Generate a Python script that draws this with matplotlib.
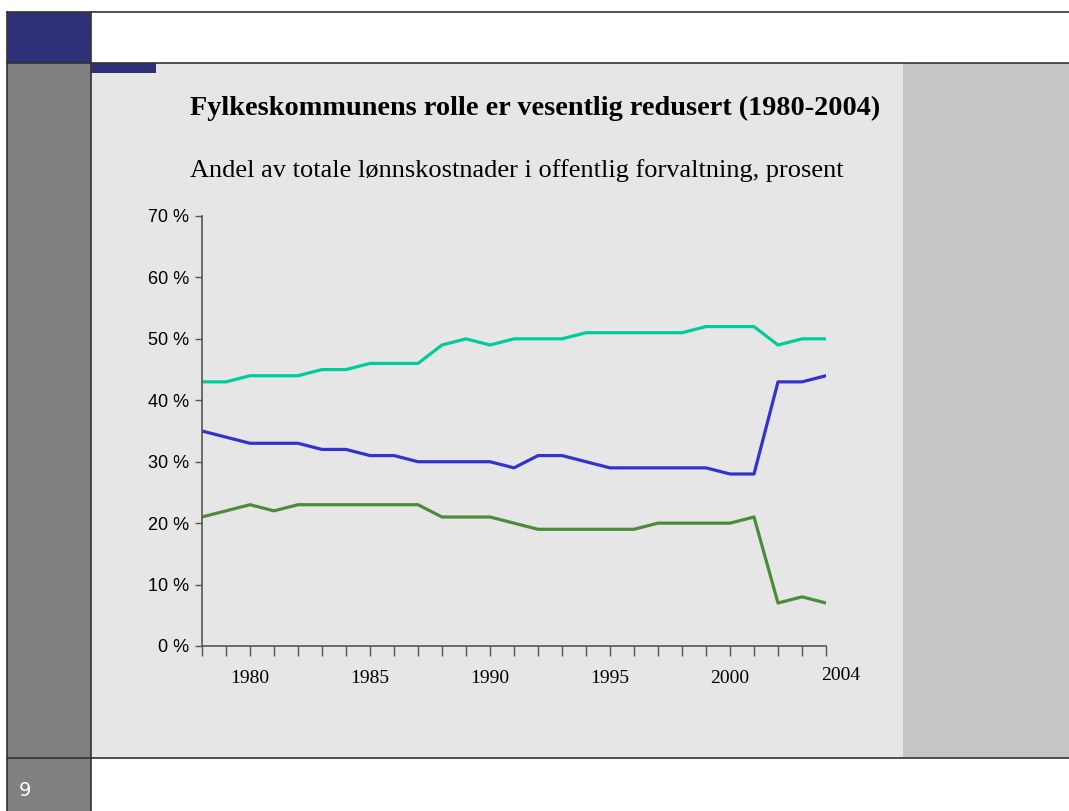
import matplotlib.pyplot as plt
import matplotlib.transforms as mtransforms
from matplotlib.patches import Rectangle

# Data (share of total wage costs, percent)
years = list(range(1978, 2005))
teal_series = [43, 43, 44, 44, 44, 45, 45, 46, 46, 46, 49, 50, 49, 50, 50, 50,
               51, 51, 51, 51, 51, 52, 52, 52, 49, 50, 50]
blue_series = [35, 34, 33, 33, 33, 32, 32, 31, 31, 30, 30, 30, 30, 29, 31, 31,
               30, 29, 29, 29, 29, 29, 28, 28, 43, 43, 44]
green_series = [21, 22, 23, 22, 23, 23, 23, 23, 23, 23, 21, 21, 21, 20, 19, 19,
                19, 19, 19, 20, 20, 20, 20, 21, 7, 8, 7]
year_labels = {1980: "1980", 1985: "1985", 1990: "1990", 1995: "1995",
               2000: "2000", 2004: "2004"}
y_ticks = [0, 10, 20, 30, 40, 50, 60, 70]

title = "Fylkeskommunens rolle er vesentlig redusert (1980-2004)"
subtitle = "Andel av totale lønnskostnader i offentlig forvaltning, prosent"

W, H = 1069, 811
fig = plt.figure(figsize=(W / 100, H / 100), dpi=100)

# Slide background drawn in pixel coordinates
bg = fig.add_axes([0, 0, 1, 1])
bg.set_xlim(0, W)
bg.set_ylim(H, 0)
bg.axis("off")
bg.add_patch(Rectangle((91, 63), 812, 695, color="#e6e6e6", lw=0))
bg.add_patch(Rectangle((903, 63), W - 903, 695, color="#c6c6c6", lw=0))
bg.add_patch(Rectangle((7, 63), 84, H - 63, color="#808080", lw=0))
bg.add_patch(Rectangle((7, 12), 84, 51, color="#2e3078", lw=0))
bg.add_patch(Rectangle((91, 63), 65, 10, color="#2e3078", lw=0))
line_kw = dict(color="#333333", lw=1.2)
bg.plot([7, W], [12, 12], **line_kw)
bg.plot([7, W], [63, 63], **line_kw)
bg.plot([7, W], [758, 758], **line_kw)
bg.plot([7, 7], [12, H], **line_kw)
bg.plot([91, 91], [12, H], **line_kw)
bg.text(25, 790, "9", color="white", fontsize=14, family="DejaVu Sans",
        ha="center", va="center")
bg.text(190, 115, title, fontsize=20.3, fontweight="bold",
        family="Liberation Serif", va="baseline", ha="left")
bg.text(190, 177, subtitle, fontsize=19, family="Liberation Serif",
        va="baseline", ha="left")

# Chart
ax = fig.add_axes([202 / W, 1 - 646 / H, (826 - 202) / W, (646 - 216) / H])
ax.patch.set_alpha(0)
ax.plot(years, teal_series, color="#00cc99", lw=2.3)
ax.plot(years, blue_series, color="#3333cc", lw=2.3)
ax.plot(years, green_series, color="#4a8c3a", lw=2.3)

ax.set_xlim(years[0], years[-1])
ax.set_ylim(0, 70)
ax.set_yticks(y_ticks)
ax.set_yticklabels([f"{v} %" for v in y_ticks], family="Liberation Sans",
                   fontsize=13)
ax.set_xticks(years)
ax.set_xticklabels([year_labels.get(y, "") for y in years],
                   family="Liberation Serif", fontsize=14)
ax.tick_params(axis="x", length=7, width=1, color="#555555", pad=10.5)
ax.tick_params(axis="y", length=5, width=1, color="#555555", pad=4)
for s in ["top", "right"]:
    ax.spines[s].set_visible(False)
for s in ["left", "bottom"]:
    ax.spines[s].set_color("#555555")
    ax.spines[s].set_linewidth(1.2)

# last year label sits a bit right of its tick, as in the original
last = ax.get_xticklabels()[-1]
last.set_transform(last.get_transform() +
                   mtransforms.ScaledTranslation(0.15, 0.03, fig.dpi_scale_trans))

fig.savefig("out.png", dpi=100)
